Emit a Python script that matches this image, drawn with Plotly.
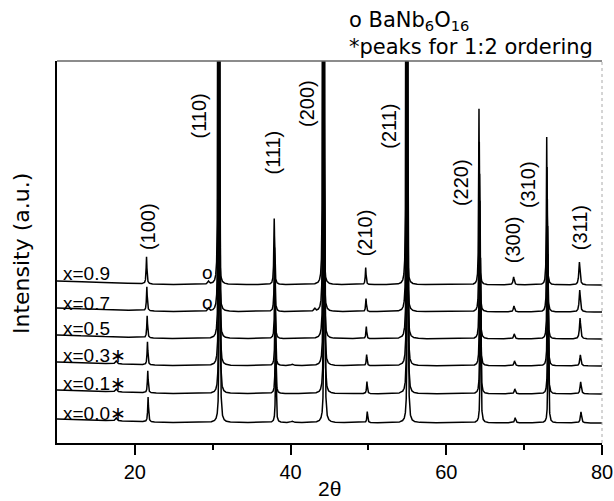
import numpy as np
import plotly.graph_objects as go

# ---------------- data ----------------
samples = ["x=0.9", "x=0.7", "x=0.5", "x=0.3\u2217", "x=0.1\u2217", "x=0.0\u2217"]
baseline = [158, 131, 104, 77, 49, 20]          # vertical offset of each pattern
pos_shift = [0.0, 0.04, 0.08, 0.12, 0.16, 0.20]  # small 2theta shift of each pattern

bg_angle = [10, 24, 80]        # low-angle background
bg_rise = [4, 0.5, 0]

hkl = ["(100)", "(110)", "(111)", "(200)", "(210)", "(211)", "(220)", "(300)", "(310)", "(311)"]
peak_pos = [21.5, 30.7, 37.9, 44.15, 49.65, 54.85, 64.2, 68.65, 72.9, 77.1]
peak_hwhm = [0.06, 0.04, 0.06, 0.04, 0.06, 0.04, 0.05, 0.09, 0.05, 0.09]

height_09 = [27, 600, 66, 600, 17, 600, 176, 8, 148, 23]
height_07 = [24, 600, 64, 600, 13, 600, 170, 6, 145, 22]
height_05 = [22, 600, 62, 600, 12, 600, 165, 5, 140, 21]
height_03 = [23, 600, 62, 600, 11, 600, 165, 5, 140, 11]
height_01 = [22, 600, 62, 600, 12, 600, 165, 5, 140, 12]
height_00 = [25, 600, 64, 600, 11, 600, 165, 5, 140, 11]
heights = [height_09, height_07, height_05, height_03, height_01, height_00]

# minor phase peaks: 1:2 ordering (*), BaNb6O16 (o), others
extra_pos = [17.6, 29.45, 43.1, 40.2]
extra_hwhm = [0.12, 0.12, 0.1, 0.15]
extra_09 = [0, 3, 0, 0]
extra_07 = [0, 3, 3, 0]
extra_05 = [0, 0, 0, 0]
extra_03 = [3, 0, 0, 1.5]
extra_01 = [3, 0, 0, 0]
extra_00 = [3, 0, 0, 1.5]
extras = [extra_09, extra_07, extra_05, extra_03, extra_01, extra_00]

# label positions (2theta, intensity units)
label_x = [21.7, 28.3, 37.8, 42.1, 49.6, 52.6, 61.9, 68.6, 70.5, 77.2]
label_y = [216, 327, 291, 340, 210, 317, 260, 203, 258, 215]
sample_label_y = [170, 140, 115, 88, 60, 30]
phase_mark_x = [29.35, 29.35]
phase_mark_y = [171, 141]

# ---------------- figure ----------------
tt = np.arange(10.0, 80.0001, 0.005)
fig = go.Figure()
for i, name in enumerate(samples):
    y = np.full_like(tt, float(baseline[i])) + np.interp(tt, bg_angle, bg_rise)
    for p, g, h in zip(peak_pos, peak_hwhm, heights[i]):
        c = p + pos_shift[i]
        y += h * g * g / (g * g + (tt - c) ** 2)
    for p, g, h in zip(extra_pos, extra_hwhm, extras[i]):
        if h:
            y += h * g * g / (g * g + (tt - p) ** 2)
    fig.add_trace(go.Scatter(x=tt, y=y, mode="lines", name=name,
                             line=dict(color="black", width=1.5),
                             hoverinfo="skip", showlegend=False))

AR = "Liberation Sans, Arial, sans-serif"
DJ = "DejaVu Sans, sans-serif"
ann = []
for t, x, y in zip(hkl, label_x, label_y):
    ann.append(dict(x=x, y=y, xref="x", yref="y", text=t, textangle=-90,
                    showarrow=False, font=dict(family=AR, size=20, color="black"),
                    xanchor="center", yanchor="middle"))
for t, y in zip(samples, sample_label_y):
    ann.append(dict(x=10.45, y=y, xref="x", yref="y", text=t, showarrow=False,
                    font=dict(family=AR, size=19, color="black"),
                    xanchor="left", yanchor="middle"))
for x, y in zip(phase_mark_x, phase_mark_y):
    ann.append(dict(x=x, y=y, xref="x", yref="y", text="o", showarrow=False,
                    font=dict(family=AR, size=19, color="black"),
                    xanchor="center", yanchor="middle"))
ann.append(dict(x=0.532, y=1.104, xref="paper", yref="paper",
                text="o BaNb<sub>6</sub>O<sub>16</sub>", showarrow=False,
                font=dict(family=DJ, size=21, color="black"), xanchor="left", yanchor="middle"))
ann.append(dict(x=0.532, y=1.036, xref="paper", yref="paper",
                text="*peaks for 1:2 ordering", showarrow=False,
                font=dict(family=DJ, size=21, color="black"), xanchor="left", yanchor="middle"))
ann.append(dict(x=0.5, y=-0.119, xref="paper", yref="paper", text="2\u03b8",
                showarrow=False, font=dict(family=AR, size=21, color="black"),
                xanchor="center", yanchor="middle"))
ann.append(dict(x=-0.064, y=0.495, xref="paper", yref="paper", text="Intensity (a.u.)",
                textangle=-90, showarrow=False, font=dict(family=DJ, size=22, color="black"),
                xanchor="center", yanchor="middle"))

fig.update_layout(
    width=614, height=501,
    margin=dict(l=57, r=12, t=61, b=58, autoexpand=False),
    paper_bgcolor="white", plot_bgcolor="white",
    showlegend=False,
    annotations=ann,
    shapes=[
        dict(type="line", xref="paper", yref="paper", x0=0, x1=1, y0=1, y1=1,
             line=dict(color="#666", width=1.5)),
        dict(type="line", xref="paper", yref="paper", x0=1, x1=1, y0=0, y1=1,
             line=dict(color="#aaa", width=1, dash="dot")),
    ],
    xaxis=dict(range=[10, 80], tickvals=[20, 40, 60, 80], ticks="outside",
               ticklen=10, tickwidth=2, tickcolor="black", automargin=False,
               showline=True, linewidth=2, linecolor="black",
               showgrid=False, zeroline=False,
               tickfont=dict(family=AR, size=20, color="black"),
               minor=dict(tickvals=[30, 50, 70], ticks="outside", ticklen=5,
                          tickwidth=1.5, tickcolor="black")),
    yaxis=dict(range=[0, 382], showticklabels=False, ticks="", automargin=False,
               showline=True, linewidth=2, linecolor="black",
               showgrid=False, zeroline=False),
)
fig.write_html("out.html")
